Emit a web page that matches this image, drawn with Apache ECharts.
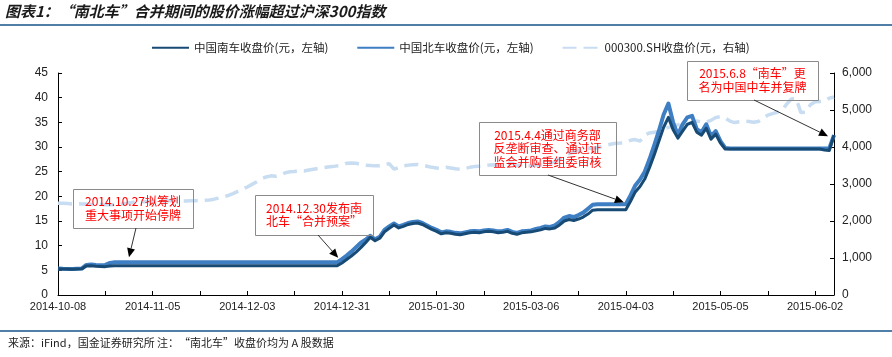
<!DOCTYPE html>
<html><head><meta charset="utf-8">
<script src="https://cdn.jsdelivr.net/npm/echarts@6/dist/echarts.min.js"></script>
<style>html,body{margin:0;padding:0;background:#fff}#c{width:892px;height:357px}</style>
</head><body><div id="c"></div>
<script>
const dates = [
"2014-10-08","2014-10-09","2014-10-10","2014-10-13","2014-10-14","2014-10-15","2014-10-16","2014-10-17","2014-10-20","2014-10-21","2014-10-22","2014-10-23","2014-10-24","2014-10-27","2014-10-28","2014-10-29","2014-10-30","2014-10-31",
"2014-11-03","2014-11-04","2014-11-05","2014-11-06","2014-11-07","2014-11-10","2014-11-11","2014-11-12","2014-11-13","2014-11-14","2014-11-17","2014-11-18","2014-11-19","2014-11-20","2014-11-21","2014-11-24","2014-11-25","2014-11-26","2014-11-27","2014-11-28",
"2014-12-01","2014-12-02","2014-12-03","2014-12-04","2014-12-05","2014-12-08","2014-12-09","2014-12-10","2014-12-11","2014-12-12","2014-12-15","2014-12-16","2014-12-17","2014-12-18","2014-12-19","2014-12-22","2014-12-23","2014-12-24","2014-12-25","2014-12-26","2014-12-29","2014-12-30","2014-12-31",
"2015-01-05","2015-01-06","2015-01-07","2015-01-08","2015-01-09","2015-01-12","2015-01-13","2015-01-14","2015-01-15","2015-01-16","2015-01-19","2015-01-20","2015-01-21","2015-01-22","2015-01-23","2015-01-26","2015-01-27","2015-01-28","2015-01-29","2015-01-30",
"2015-02-02","2015-02-03","2015-02-04","2015-02-05","2015-02-06","2015-02-09","2015-02-10","2015-02-11","2015-02-12","2015-02-13","2015-02-16","2015-02-17","2015-02-25","2015-02-26","2015-02-27",
"2015-03-02","2015-03-03","2015-03-04","2015-03-05","2015-03-06","2015-03-09","2015-03-10","2015-03-11","2015-03-12","2015-03-13","2015-03-16","2015-03-17","2015-03-18","2015-03-19","2015-03-20","2015-03-23","2015-03-24","2015-03-25","2015-03-26","2015-03-27","2015-03-30","2015-03-31",
"2015-04-01","2015-04-02","2015-04-03","2015-04-07","2015-04-08","2015-04-09","2015-04-10","2015-04-13","2015-04-14","2015-04-15","2015-04-16","2015-04-17","2015-04-20","2015-04-21","2015-04-22","2015-04-23","2015-04-24","2015-04-27","2015-04-28","2015-04-29","2015-04-30",
"2015-05-04","2015-05-05","2015-05-06","2015-05-07","2015-05-08","2015-05-11","2015-05-12","2015-05-13","2015-05-14","2015-05-15","2015-05-18","2015-05-19","2015-05-20","2015-05-21","2015-05-22","2015-05-25","2015-05-26","2015-05-27","2015-05-28","2015-05-29",
"2015-06-01","2015-06-02","2015-06-03","2015-06-04","2015-06-05","2015-06-08"
];

const southClose = [
5.3,5.28,5.25,5.22,5.25,5.3,5.9,5.95,5.85,5.8,5.75,5.9,5.92,
5.92,5.92,5.92,5.92,5.92,5.92,5.92,5.92,5.92,5.92,5.92,5.92,5.92,5.92,5.92,5.92,5.92,5.92,5.92,5.92,5.92,5.92,5.92,5.92,5.92,5.92,5.92,5.92,5.92,5.92,5.92,5.92,5.92,5.92,5.92,5.92,5.92,5.92,5.92,5.92,5.92,5.92,5.92,5.92,5.92,5.92,5.92,
6.5,7.2,7.9,8.7,9.6,10.6,11.7,
11.0,11.5,12.8,13.5,14.2,13.6,13.9,14.3,14.5,14.6,14.3,13.8,13.3,12.9,
12.4,12.6,12.5,12.3,12.2,12.4,12.6,12.7,12.6,12.8,12.9,12.8,12.6,12.7,12.9,
12.5,12.3,12.6,12.7,12.8,13.0,13.2,13.5,13.4,13.6,14.2,15.0,15.3,15.1,15.4,15.8,16.4,17.2,
17.3,17.3,17.3,17.3,17.3,17.3,17.3,
19.0,20.9,22.0,23.5,25.8,28.4,31.2,34.0,36.0,33.5,31.8,33.2,34.6,35.0,33.0,32.4,33.8,31.6,32.6,30.8,29.6,
29.6,29.6,29.6,29.6,29.6,29.6,29.6,29.6,29.6,29.6,29.6,29.6,29.6,29.6,29.6,29.6,29.6,29.6,29.6,29.6,
29.4,29.3,32.4
];

const northClose = [
5.35,5.3,5.28,5.25,5.3,5.35,6.1,6.2,6.1,6.05,6.1,6.5,6.63,
6.63,6.63,6.63,6.63,6.63,6.63,6.63,6.63,6.63,6.63,6.63,6.63,6.63,6.63,6.63,6.63,6.63,6.63,6.63,6.63,6.63,6.63,6.63,6.63,6.63,6.63,6.63,6.63,6.63,6.63,6.63,6.63,6.63,6.63,6.63,6.63,6.63,6.63,6.63,6.63,6.63,6.63,6.63,6.63,6.63,6.63,6.63,
7.29,8.0,8.8,9.7,10.6,11.2,12.0,
11.3,11.8,13.2,13.9,14.5,13.9,14.2,14.6,14.8,14.9,14.6,14.1,13.6,13.2,
12.7,12.9,12.8,12.6,12.5,12.7,12.9,13.0,12.9,13.1,13.2,13.1,12.9,13.0,13.2,
12.8,12.6,12.9,13.0,13.1,13.4,13.6,13.9,13.8,14.1,14.8,15.7,16.0,15.8,16.2,16.7,17.5,18.3,
18.4,18.4,18.4,18.4,18.4,18.4,18.4,
20.2,22.2,23.4,25.0,27.5,30.3,33.3,36.6,38.8,35.0,32.4,34.6,36.0,36.3,33.6,33.0,34.6,32.2,33.2,31.2,29.8,
29.7,29.7,29.7,29.7,29.7,29.7,29.7,29.7,29.7,29.7,29.7,29.7,29.7,29.7,29.7,29.7,29.7,29.7,29.7,29.7,
29.7,29.7,32.4
];

const hs300Close = [
2480,2478,2470,2460,2465,2462,2458,2450,2445,2450,2440,2438,2445,2455,2470,2490,2505,2515,
2520,2525,2530,2535,2540,2545,2550,2548,2545,2540,2545,2550,2555,2560,2570,2590,2620,2650,2690,2740,
2800,2860,2920,2990,3060,3140,3190,3220,3210,3240,3300,3330,3340,3360,3350,3380,3400,3420,3440,3460,3470,3490,3510,
3560,3570,3560,3530,3510,3500,3490,3490,3520,3550,3400,3440,3490,3510,3520,3530,3510,3480,3450,3430,
3420,3450,3430,3410,3400,3420,3450,3470,3480,3490,3510,3520,3500,3530,3560,
3560,3500,3510,3500,3490,3520,3510,3520,3560,3600,3680,3750,3820,3860,3900,3950,3970,3960,3980,4010,4050,4080,
4100,4110,4130,4180,4200,4160,4320,4380,4400,4420,4480,4530,4560,4600,4640,4620,4650,4700,4680,4670,4720,
4800,4820,4780,4700,4660,4680,4700,4690,4670,4690,4780,4860,4900,4940,4990,5160,5300,5310,4930,4940,
5140,5220,5230,5240,5320,5350
];

const leftTicks = {min: 0, max: 45, interval: 5};
const rightTicks = {min: 0, max: 6000, interval: 1000};

const seriesNames = ["中国南车收盘价(元，左轴)", "中国北车收盘价(元，左轴)", "000300.SH收盘价(元，右轴)"];

const notes = [
  {lines: ["2014.10.27拟筹划", "重大事项开始停牌"], box: [73, 189, 120, 39], from: [136, 228], idx: 15, series: "north", off: [0, -5]},
  {lines: ["2014.12.30发布南", "北车“合并预案”"], box: [255, 195, 118, 40], from: [318, 235], idx: 59, series: "south", off: [1, -8]},
  {lines: ["2015.4.4通过商务部", "反垄断审查、通过证", "监会并购重组委审核"], box: [479, 122, 137, 53], from: [548, 175], idx: 120, series: "north", off: [-2, -2]},
  {lines: ["2015.6.8“南车”更", "名为中国中车并复牌"], box: [687, 61, 131, 39], from: [754, 100], idx: 164, series: "south", off: [-6, 1]}
];

const CJK = '"Noto Sans CJK SC", sans-serif';
const chart = echarts.init(document.getElementById('c'), null, {renderer: 'canvas'});

const option = {
  animation: false,
  backgroundColor: '#fff',
  grid: {left: 58, right: 58, top: 73, bottom: 62, containLabel: false},
  legend: {
    left: 146, top: 37, itemWidth: 37, itemHeight: 10, itemGap: 28,
    itemStyle: {opacity: 0},
    textStyle: {fontFamily: CJK, fontSize: 11.5, color: '#222'},
    data: seriesNames
  },
  xAxis: {
    type: 'category', data: dates, boundaryGap: false,
    axisLine: {lineStyle: {color: '#000', width: 1}},
    axisTick: {interval: 9, inside: true, length: 4, lineStyle: {color: '#000'}},
    axisLabel: {interval: 19, margin: 6, fontFamily: 'Liberation Sans, Arial', fontSize: 11, color: '#222'},
    splitLine: {show: false}
  },
  yAxis: [
    {type: 'value', min: leftTicks.min, max: leftTicks.max, interval: leftTicks.interval, position: 'left',
     axisLine: {show: true, lineStyle: {color: '#000'}},
     axisTick: {show: true, inside: true, length: 4, lineStyle: {color: '#000'}},
     axisLabel: {margin: 10, fontFamily: 'Liberation Sans, Arial', fontSize: 12, color: '#222'},
     splitLine: {show: false}},
    {type: 'value', min: rightTicks.min, max: rightTicks.max, interval: rightTicks.interval, position: 'right',
     axisLine: {show: true, lineStyle: {color: '#000'}},
     axisTick: {show: true, inside: true, length: 4, lineStyle: {color: '#000'}},
     axisLabel: {margin: 8, fontFamily: 'Liberation Sans, Arial', fontSize: 12, color: '#222',
       formatter: v => v.toLocaleString('en-US')},
     splitLine: {show: false}}
  ],
  series: [
    {name: seriesNames[0], type: 'line', data: southClose, yAxisIndex: 0, symbol: 'none', z: 4,
     lineStyle: {color: '#174A74', width: 3, join: 'round'}, itemStyle: {color: '#174A74'}},
    {name: seriesNames[1], type: 'line', data: northClose, yAxisIndex: 0, symbol: 'none', z: 3,
     lineStyle: {color: '#3E7EC2', width: 4, join: 'round'}, itemStyle: {color: '#3E7EC2'}},
    {name: seriesNames[2], type: 'line', data: hs300Close, yAxisIndex: 1, symbol: 'none', z: 2,
     lineStyle: {color: '#C8DDF1', width: 3.5, type: [14, 7]}, itemStyle: {color: '#C8DDF1'}}
  ]
};
chart.setOption(option);

function buildGraphics() {
  const g = [];
  g.push({type: 'text', left: 5, top: 4, z: 10,
    style: {text: '图表1：“南北车”合并期间的股价涨幅超过沪深300指数', fill: '#1a1a1a',
      font: 'italic bold 15px ' + CJK}});
  g.push({type: 'rect', shape: {x: 0, y: 24, width: 892, height: 2}, style: {fill: '#4F7FA6'}, z: 10});
  g.push({type: 'rect', shape: {x: 0, y: 330, width: 892, height: 2}, style: {fill: '#4F7FA6'}, z: 10});
  g.push({type: 'text', left: 8, top: 337, z: 10,
    style: {text: '来源：iFind，国金证券研究所 注：“南北车”收盘价均为 A 股数据', fill: '#222', font: '11px ' + CJK}});
  notes.forEach(n => {
    const [bx, by, bw, bh] = n.box;
    g.push({type: 'rect', z: 20, shape: {x: bx + 0.5, y: by + 0.5, width: bw, height: bh},
      style: {fill: 'rgba(255,255,255,0)', stroke: '#8a8a8a', lineWidth: 1}});
    const lh = 13.5;
    const startY = by + bh / 2 - (n.lines.length - 1) * lh / 2;
    n.lines.forEach((t, i) => {
      g.push({type: 'text', z: 21, x: bx + bw / 2, y: startY + i * lh,
        style: {text: t, fill: '#ff0000', font: '12px ' + CJK, align: 'center', verticalAlign: 'middle',
          textAlign: 'center', textVerticalAlign: 'middle'}});
    });
    const val = (n.series === 'north' ? northClose : southClose)[n.idx];
    const p = chart.convertToPixel({xAxisIndex: 0, yAxisIndex: 0}, [n.idx, val]);
    const tip = [p[0] + n.off[0], p[1] + n.off[1]];
    const from = n.from;
    const dx = tip[0] - from[0], dy = tip[1] - from[1];
    const L = Math.sqrt(dx * dx + dy * dy);
    const ux = dx / L, uy = dy / L;
    const hl = 9, hw = 4;
    const base = [tip[0] - ux * hl, tip[1] - uy * hl];
    g.push({type: 'line', z: 22, shape: {x1: from[0], y1: from[1], x2: base[0], y2: base[1]},
      style: {stroke: '#333', lineWidth: 1}});
    g.push({type: 'polygon', z: 22, shape: {points: [tip, [base[0] - uy * hw, base[1] + ux * hw], [base[0] + uy * hw, base[1] - ux * hw]]},
      style: {fill: '#000'}});
  });
  return g;
}
chart.setOption({graphic: buildGraphics()});
</script>
</body></html>
